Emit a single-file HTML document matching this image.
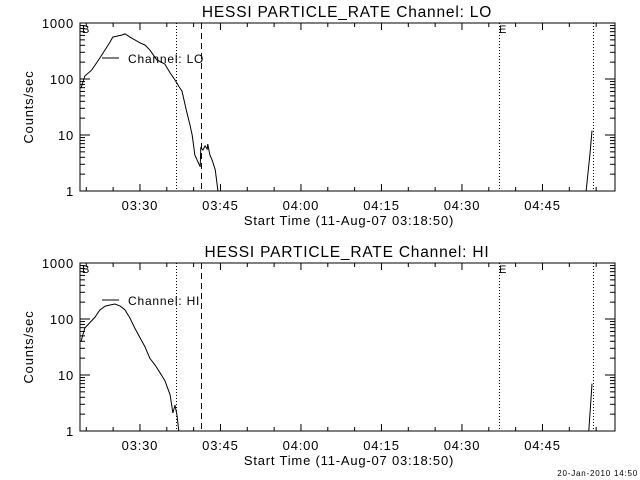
<!DOCTYPE html>
<html><head><meta charset="utf-8"><style>
html,body{margin:0;padding:0;background:#fff;}
svg{display:block;font-family:"Liberation Sans",sans-serif;}
text{letter-spacing:0.8px;}
</style></head><body>
<svg id="chart" width="640" height="480" viewBox="0 0 640 480"></svg>
<script>
// minutes since 03:18:50
const tickLabels = ["03:30","03:45","04:00","04:15","04:30","04:45"];
const tickMinutes = [11.17,26.17,41.17,56.17,71.17,86.17];
const yTickValues = [1,10,100,1000];
const yTickLabels = ["1","10","100","1000"];
const loTimes = [0.2,0.9,2.2,3.7,5.6,6.1,7.8,8.4,9.3,11.2,12.1,13.0,14.3,15.8,16.8,17.7,18.6,19.0,19.8,20.5,20.9,21.4,21.8,22.4,22.5,22.9,23.3,23.7,23.8,24.2,24.6,25.2,25.7];
const loValues = [69,113,145,237,457,560,610,640,560,440,405,330,220,185,128,96,69,61,28,15,10,4.4,3.6,2.7,5.9,5.4,6.4,5.6,6.9,4.4,3.6,2.4,1];
const loLateTimes = [94.3,95.0,95.4];
const loLateValues = [1,4.4,12];
const hiTimes = [0.2,0.9,2.8,3.7,4.7,5.6,6.5,7.5,8.4,9.3,10.2,11.2,12.1,13.0,14.0,14.9,15.8,16.8,17.3,17.7,18.1,18.4];
const hiValues = [40,69,108,145,170,178,185,170,145,104,69,46,32,20,15,11,8.0,4.4,2.1,2.9,1.85,1];
const hiLateTimes = [94.8,95.4];
const hiLateValues = [1,7];
const markerTimes = {dotA:17.9, dashed:22.6, dotE:78.0, dotB:95.6};

const svg = document.getElementById('chart');
const NS = 'http://www.w3.org/2000/svg';
function mk(tag, attrs, parent){const e=document.createElementNS(NS,tag);for(const k in attrs)e.setAttribute(k,attrs[k]);(parent||svg).appendChild(e);return e;}
const X0=80, X1=615, MMAX=(615-80)/5.367;
function xs(m){return X0+(m/MMAX)*(X1-X0);}

function panel(off, ch, times, vals, lt, lv, key){
  const T=23+off, B=191+off;
  function ys(v){return B-(Math.log10(Math.max(v,1))/3)*(B-T);}
  const g=mk('g',{});
  
  
  const title=mk('text',{x:347,y:17+off,'text-anchor':'middle','font-size':15.5},g);
  title.textContent='HESSI PARTICLE_RATE Channel: '+ch;
  
  
  const frame=mk('rect',{x:X0,y:T,width:X1-X0,height:B-T,fill:'none',stroke:'#000','stroke-width':1},g);
  
  
  for(let d=0;d<3;d++){for(let k=1;k<10;k++){const v=Math.pow(10,d)*k;const y=ys(v);const L=k===1?10:5;
    mk('line',{x1:X0,x2:X0+L,y1:y,y2:y,stroke:'#000'},g);mk('line',{x1:X1,x2:X1-L,y1:y,y2:y,stroke:'#000'},g);}}
  yTickValues.forEach((v,i)=>{const t=mk('text',{x:74,y:ys(v)+5,'text-anchor':'end','font-size':13},g);t.textContent=yTickLabels[i];
    
    });
  const yt=mk('text',{x:0,y:0,'text-anchor':'middle','font-size':13,transform:`translate(33,${(T+B)/2}) rotate(-90)`},g);
  yt.textContent='Counts/sec';
  
  
  for(let m=1.17;m<MMAX;m+=5){const x=xs(m);const major=Math.abs(((m-11.17)/15)-Math.round((m-11.17)/15))<0.01;const L=major?7:4;
    mk('line',{x1:x,x2:x,y1:B,y2:B-L,stroke:'#000'},g);mk('line',{x1:x,x2:x,y1:T,y2:T+L,stroke:'#000'},g);}
  tickLabels.forEach((s,i)=>{const t=mk('text',{x:xs(tickMinutes[i]),y:B+19,'text-anchor':'middle','font-size':13},g);t.textContent=s;
    
    });
  const xt=mk('text',{x:349,y:B+34,'text-anchor':'middle','font-size':13},g);
  xt.textContent='Start Time (11-Aug-07 03:18:50)';
  
  
  [['dotA','1,2'],['dashed','6,4'],['dotE','1,2'],['dotB','1,2']].forEach(([k,da])=>{const x=Math.round(xs(markerTimes[k]))+0.5;
    const l=mk('line',{x1:x,x2:x,y1:T,y2:B,stroke:'#000','stroke-dasharray':da},g);
    
    });
  const bt=mk('text',{x:82,y:T+10,'font-size':11},g);bt.textContent='B';
  
  
  const et=mk('text',{x:499,y:T+10,'font-size':11},g);et.textContent='E';
  
  
  const p1=mk('polyline',{points:times.map((m,i)=>xs(m)+','+ys(vals[i])).join(' '),fill:'none',stroke:'#000','stroke-width':1},g);
  
  
  const p2=mk('polyline',{points:lt.map((m,i)=>xs(m)+','+ys(lv[i])).join(' '),fill:'none',stroke:'#000','stroke-width':1},g);
  
  
  const ly=(key==='lo'?58:60)+off;
  const ll=mk('line',{x1:102,x2:119,y1:ly,y2:ly,stroke:'#000'},g);
  
  
  const lt2=mk('text',{x:128,y:ly+5,'font-size':12},g);lt2.textContent='Channel: '+ch;
  
  
}
panel(0,'LO',loTimes,loValues,loLateTimes,loLateValues,'lo');
panel(240,'HI',hiTimes,hiValues,hiLateTimes,hiLateValues,'hi');
const dt=mk('text',{x:638,y:476,'text-anchor':'end','font-size':8});
dt.textContent='20-Jan-2010 14:50';


</script>
</body></html>
